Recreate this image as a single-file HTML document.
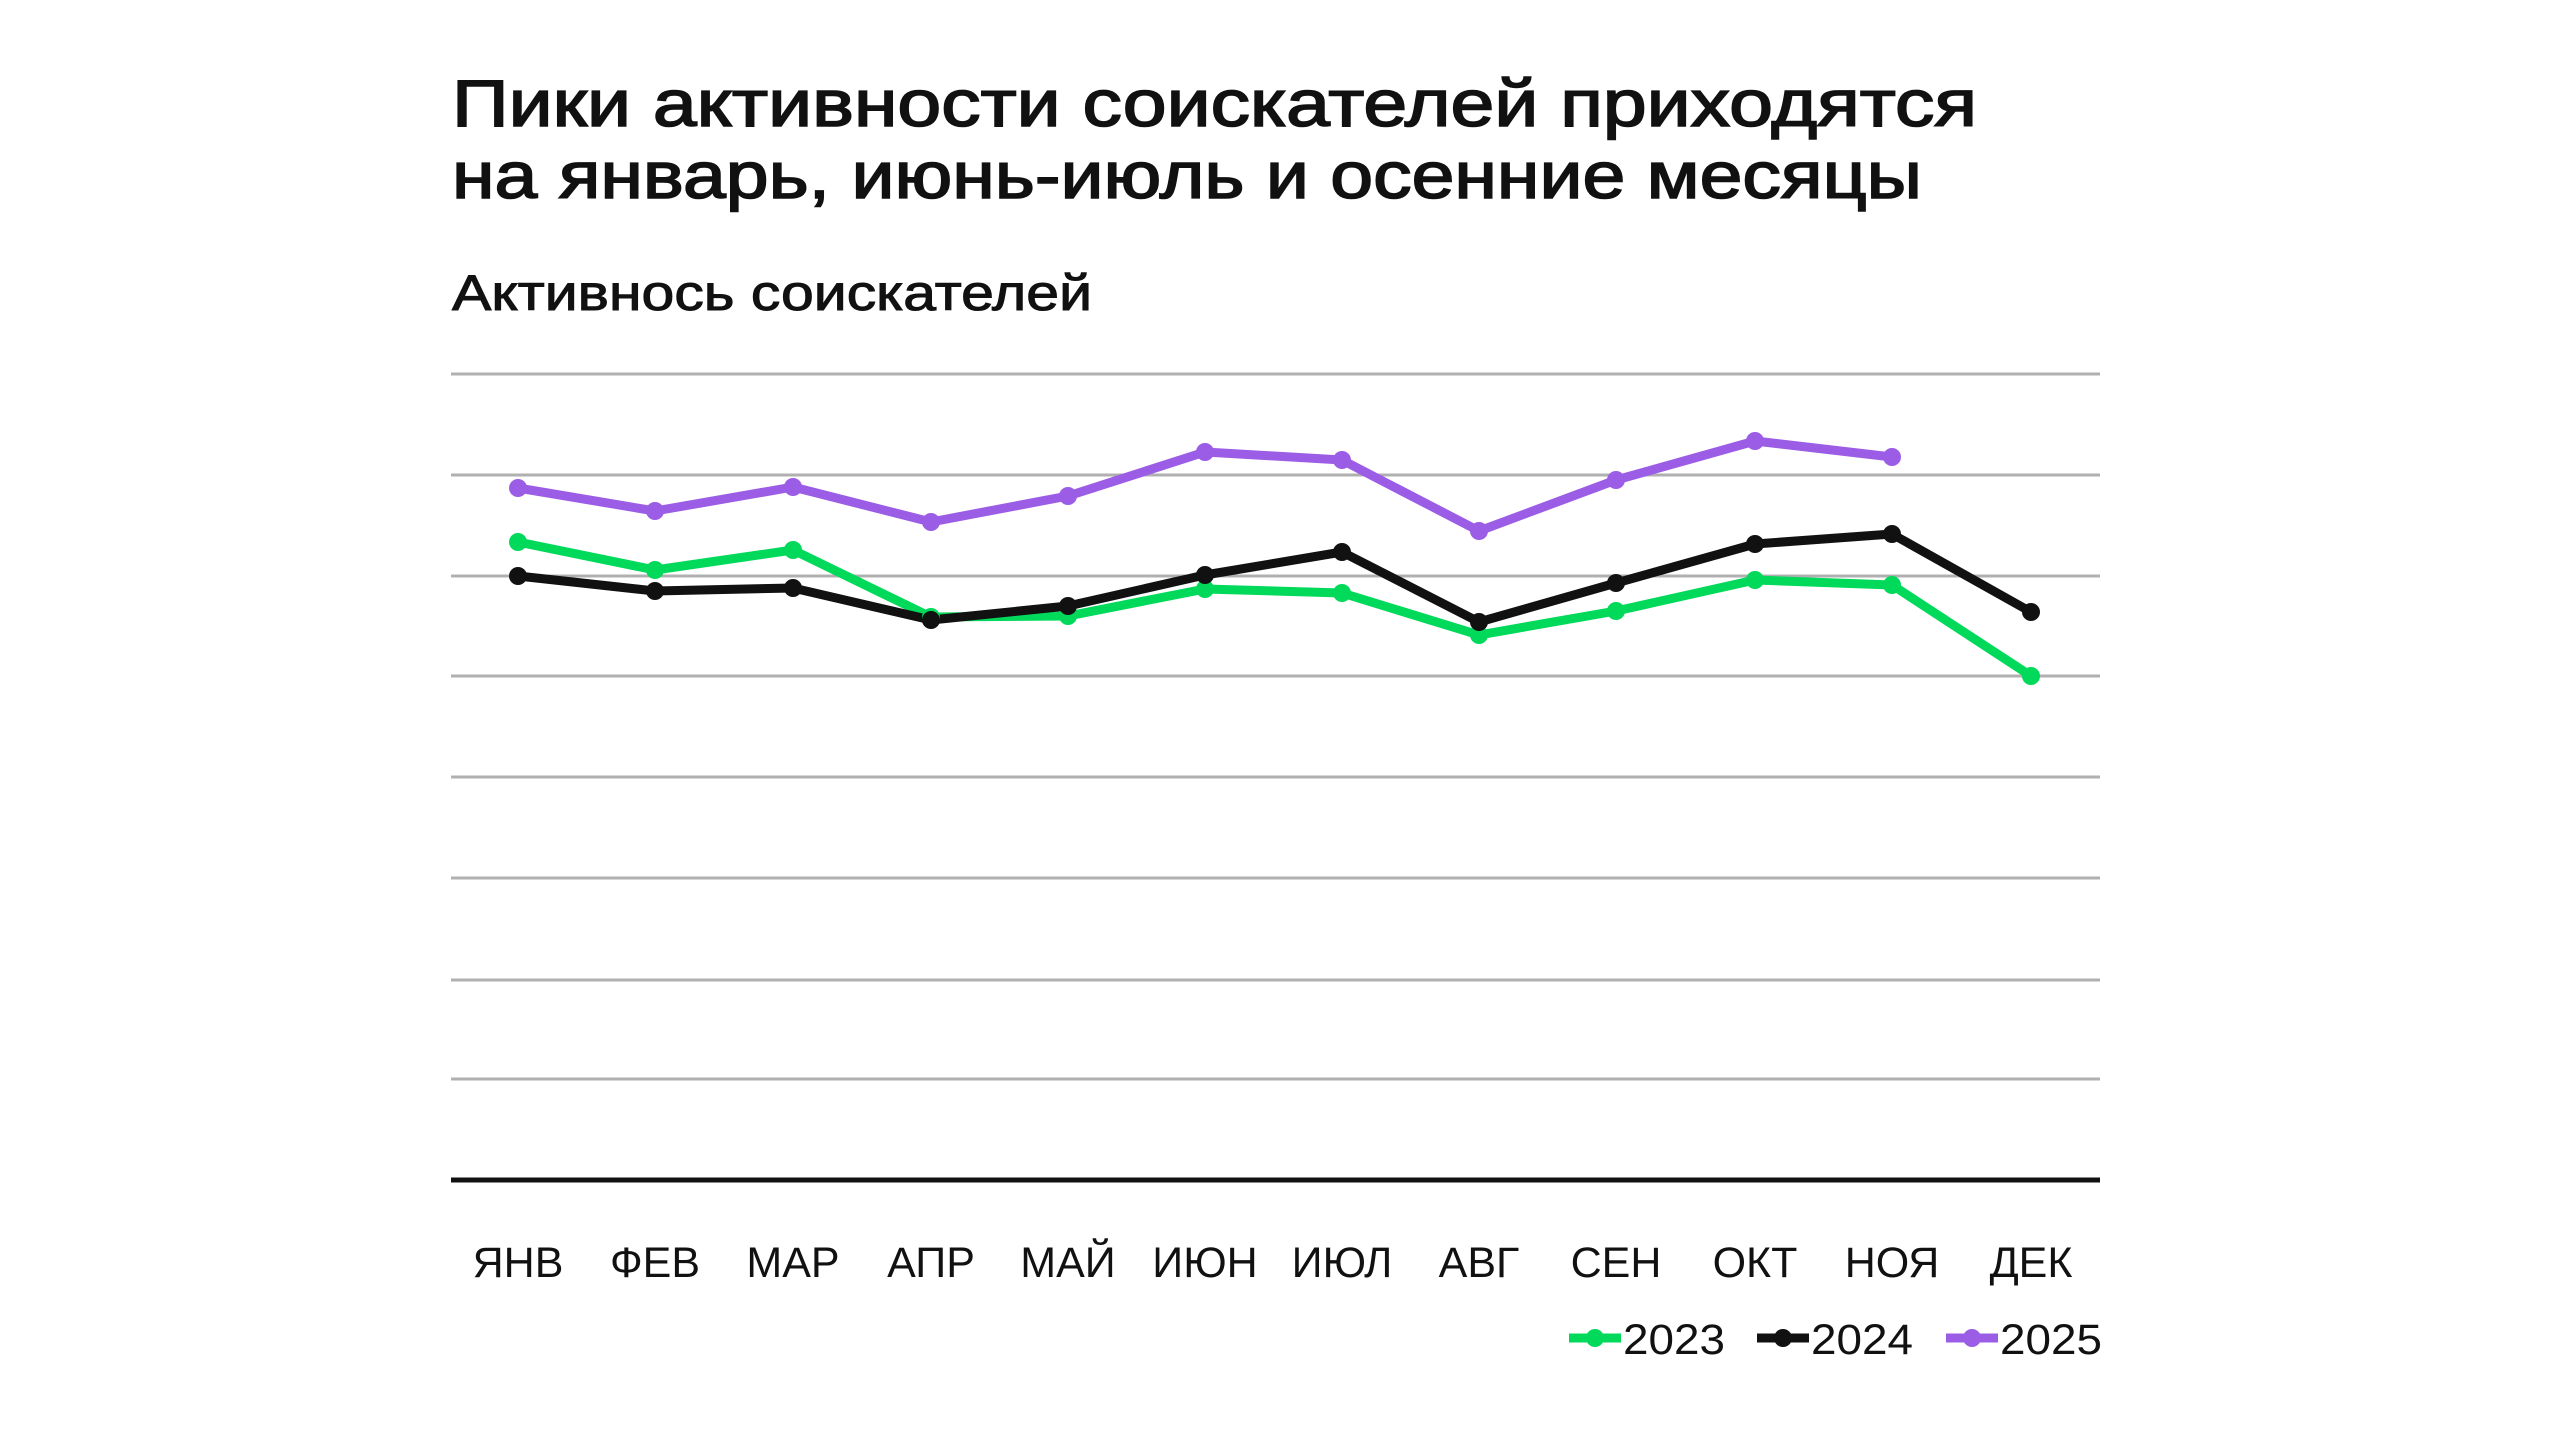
<!DOCTYPE html>
<html><head><meta charset="utf-8"><style>html,body{margin:0;padding:0;background:#fff}svg{display:block}</style></head>
<body>
<svg width="2560" height="1440" viewBox="0 0 2560 1440" xmlns="http://www.w3.org/2000/svg" font-family="'Liberation Sans', sans-serif">
<rect width="2560" height="1440" fill="#fff"/>
<g fill="#111" stroke="#111" stroke-width="1.6">
<text x="452" y="126" font-size="66" textLength="1525" lengthAdjust="spacingAndGlyphs">Пики активности соискателей приходятся</text>
<text x="452" y="198" font-size="66" textLength="1470" lengthAdjust="spacingAndGlyphs">на январь, июнь-июль и осенние месяцы</text>
<text x="452" y="310" font-size="50" stroke-width="1" textLength="640" lengthAdjust="spacingAndGlyphs">Активнось соискателей</text>
</g>
<g stroke="#b0b0b0" stroke-width="3">
<line x1="451" x2="2100" y1="374" y2="374"/><line x1="451" x2="2100" y1="475" y2="475"/>
<line x1="451" x2="2100" y1="576" y2="576"/><line x1="451" x2="2100" y1="676" y2="676"/>
<line x1="451" x2="2100" y1="777" y2="777"/><line x1="451" x2="2100" y1="878" y2="878"/>
<line x1="451" x2="2100" y1="980" y2="980"/><line x1="451" x2="2100" y1="1079" y2="1079"/>
</g>
<line x1="451" x2="2100" y1="1180" y2="1180" stroke="#111" stroke-width="5"/>
<g font-size="43" fill="#111" text-anchor="middle">
<text x="518" y="1277">ЯНВ</text><text x="655" y="1277">ФЕВ</text><text x="793" y="1277">МАР</text>
<text x="931" y="1277">АПР</text><text x="1068" y="1277">МАЙ</text><text x="1205" y="1277">ИЮН</text>
<text x="1342" y="1277">ИЮЛ</text><text x="1479" y="1277">АВГ</text><text x="1616" y="1277">СЕН</text>
<text x="1755" y="1277">ОКТ</text><text x="1892" y="1277">НОЯ</text><text x="2031" y="1277">ДЕК</text>
</g>
<g fill="none" stroke-width="9" stroke-linejoin="round">
<polyline stroke="#00d95a" points="518,542 655,570 793,550 931,617 1068,616 1205,589 1342,593 1479,635 1616,611 1755,580 1892,585 2031,676"/>
<polyline stroke="#111" points="518,576 655,591 793,588 931,620 1068,606 1205,575 1342,552 1479,622 1616,583 1755,544 1892,534 2031,612"/>
<polyline stroke="#9b5de5" points="518,488 655,511 793,487 931,522 1068,496 1205,452 1342,460 1479,531 1616,480 1755,441 1892,457"/>
</g>
<g fill="#00d95a"><circle cx="518" cy="542" r="9"/><circle cx="655" cy="570" r="9"/><circle cx="793" cy="550" r="9"/><circle cx="931" cy="617" r="9"/><circle cx="1068" cy="616" r="9"/><circle cx="1205" cy="589" r="9"/><circle cx="1342" cy="593" r="9"/><circle cx="1479" cy="635" r="9"/><circle cx="1616" cy="611" r="9"/><circle cx="1755" cy="580" r="9"/><circle cx="1892" cy="585" r="9"/><circle cx="2031" cy="676" r="9"/></g>
<g fill="#111"><circle cx="518" cy="576" r="9"/><circle cx="655" cy="591" r="9"/><circle cx="793" cy="588" r="9"/><circle cx="931" cy="620" r="9"/><circle cx="1068" cy="606" r="9"/><circle cx="1205" cy="575" r="9"/><circle cx="1342" cy="552" r="9"/><circle cx="1479" cy="622" r="9"/><circle cx="1616" cy="583" r="9"/><circle cx="1755" cy="544" r="9"/><circle cx="1892" cy="534" r="9"/><circle cx="2031" cy="612" r="9"/></g>
<g fill="#9b5de5"><circle cx="518" cy="488" r="9"/><circle cx="655" cy="511" r="9"/><circle cx="793" cy="487" r="9"/><circle cx="931" cy="522" r="9"/><circle cx="1068" cy="496" r="9"/><circle cx="1205" cy="452" r="9"/><circle cx="1342" cy="460" r="9"/><circle cx="1479" cy="531" r="9"/><circle cx="1616" cy="480" r="9"/><circle cx="1755" cy="441" r="9"/><circle cx="1892" cy="457" r="9"/></g>
<g stroke-width="9">
<line x1="1569" x2="1621" y1="1338" y2="1338" stroke="#00d95a"/><circle cx="1595" cy="1338" r="9" fill="#00d95a"/>
<line x1="1757" x2="1809" y1="1338" y2="1338" stroke="#111"/><circle cx="1783" cy="1338" r="9" fill="#111"/>
<line x1="1946" x2="1998" y1="1338" y2="1338" stroke="#9b5de5"/><circle cx="1972" cy="1338" r="9" fill="#9b5de5"/>
</g>
<g font-size="43" fill="#111">
<text x="1623" y="1354" textLength="102" lengthAdjust="spacingAndGlyphs">2023</text>
<text x="1811" y="1354" textLength="102" lengthAdjust="spacingAndGlyphs">2024</text>
<text x="2000" y="1354" textLength="102" lengthAdjust="spacingAndGlyphs">2025</text>
</g>
</svg>
</body></html>
